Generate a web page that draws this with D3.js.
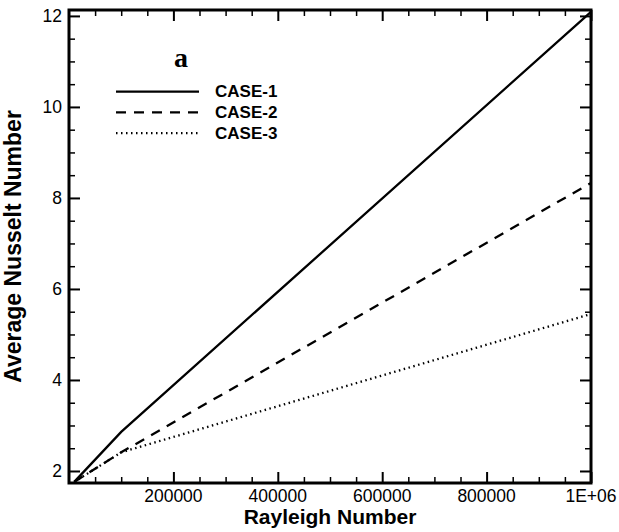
<!DOCTYPE html>
<html>
<head>
<meta charset="utf-8">
<script src="https://cdn.jsdelivr.net/npm/d3@7"></script>
<style>
  body { margin: 0; background: #fff; }
  text { font-family: "Liberation Sans", Arial, Helvetica, sans-serif; }
</style>
</head>
<body>
<div id="chart"></div>
<script>
// values
var rayleigh = [10000, 100000, 1000000];
var case1 = [1.76, 2.86, 12.09];
var case2 = [1.76, 2.41, 8.33];
var case3 = [1.76, 2.41, 5.45];
var seriesNames = ["CASE-1", "CASE-2", "CASE-3"];
var xTicks = [200000, 400000, 600000, 800000, 1000000];
var xTickLabels = ["200000", "400000", "600000", "800000", "1E+06"];
var yTicks = [2, 4, 6, 8, 10, 12];

var margin = { top: 10, left: 69, right: 28, bottom: 49 },
    width = 619 - margin.left - margin.right,
    height = 532 - margin.top - margin.bottom;

var svg = d3.select("#chart")
  .append("svg")
  .attr("width", 619)
  .attr("height", 532)
  .append("g")
  .attr("transform", "translate(" + margin.left + "," + margin.top + ")");

var xScale = d3.scaleLinear().domain([0, 1000000]).range([0, width]);
var yScale = d3.scaleLinear().domain([1.736, 12.13]).range([height, 0]);

var xMinor = d3.range(50000, 1000000, 50000).filter(function(d) { return xTicks.indexOf(d) < 0; });
var yMinor = d3.range(2.5, 12.1, 0.5).filter(function(d) { return d % 2 !== 0; });

// ticks point inward on all four sides
function ticks(axisFn, vals, len, sw) {
  return function(g) {
    g.call(axisFn.tickValues(vals).tickSize(len).tickFormat(""));
    g.select(".domain").remove();
    g.selectAll("line").attr("stroke", "#000").attr("stroke-width", sw);
  };
}

svg.append("g").attr("transform", "translate(0," + height + ")")
  .call(ticks(d3.axisTop(xScale), xTicks, 11, 2));
svg.append("g").attr("transform", "translate(0," + height + ")")
  .call(ticks(d3.axisTop(xScale), xMinor, 6, 1.5));
svg.append("g").call(ticks(d3.axisBottom(xScale), xTicks, 11, 2));
svg.append("g").call(ticks(d3.axisBottom(xScale), xMinor, 6, 1.5));
svg.append("g").call(ticks(d3.axisRight(yScale), yTicks, 11, 2));
svg.append("g").call(ticks(d3.axisRight(yScale), yMinor, 6, 1.5));
svg.append("g").attr("transform", "translate(" + width + ",0)")
  .call(ticks(d3.axisLeft(yScale), yTicks, 11, 2));
svg.append("g").attr("transform", "translate(" + width + ",0)")
  .call(ticks(d3.axisLeft(yScale), yMinor, 6, 1.5));

// tick labels
svg.selectAll(".xlab")
  .data(xTicks)
  .enter()
  .append("text")
  .attr("x", function(d) { return xScale(d); })
  .attr("y", height + 19)
  .attr("text-anchor", "middle")
  .attr("font-size", 17.5)
  .text(function(d, i) { return xTickLabels[i]; });

svg.selectAll(".ylab")
  .data(yTicks)
  .enter()
  .append("text")
  .attr("x", -7)
  .attr("y", function(d) { return yScale(d); })
  .attr("dy", "0.35em")
  .attr("text-anchor", "end")
  .attr("font-size", 17.5)
  .text(function(d) { return d; });

// lines
var line = d3.line()
  .x(function(d) { return xScale(d[0]); })
  .y(function(d) { return yScale(d[1]); });

var dashes = [null, "10,8", "1.5,3.5"];
var series = [case1, case2, case3];

svg.append("g")
  .selectAll("path")
  .data(series)
  .enter()
  .append("path")
  .attr("d", function(s) { return line(d3.zip(rayleigh, s)); })
  .attr("fill", "none")
  .attr("stroke", "#000")
  .attr("stroke-width", 2.3)
  .attr("stroke-dasharray", function(s, i) { return dashes[i]; });

// frame
svg.append("rect")
  .attr("width", width)
  .attr("height", height)
  .attr("fill", "none")
  .attr("stroke", "#000")
  .attr("stroke-width", 3);

// legend
svg.append("text")
  .attr("x", 105)
  .attr("y", 57)
  .attr("font-weight", "bold")
  .attr("font-size", 28)
  .style("font-family", "'Liberation Serif', 'Times New Roman', serif")
  .text("a");

var legend = svg.selectAll(".legend")
  .data(seriesNames)
  .enter()
  .append("g")
  .attr("transform", function(d, i) { return "translate(47," + (81.7 + i * 20.7) + ")"; });

legend.append("line")
  .attr("x1", 0)
  .attr("x2", 83)
  .attr("stroke", "#000")
  .attr("stroke-width", 2.3)
  .attr("stroke-dasharray", function(d, i) { return dashes[i]; });

legend.append("text")
  .attr("x", 99)
  .attr("y", 5.5)
  .attr("font-size", 17)
  .attr("font-weight", "bold")
  .text(function(d) { return d; });

// axis titles
svg.append("text")
  .attr("x", width / 2)
  .attr("y", height + 41)
  .attr("text-anchor", "middle")
  .attr("font-size", 21)
  .attr("font-weight", "bold")
  .text("Rayleigh Number");

svg.append("text")
  .attr("transform", "translate(" + (-48) + "," + (height / 2) + ") rotate(-90)")
  .attr("text-anchor", "middle")
  .attr("font-size", 23)
  .attr("font-weight", "bold")
  .text("Average Nusselt Number");
</script>
</body>
</html>
